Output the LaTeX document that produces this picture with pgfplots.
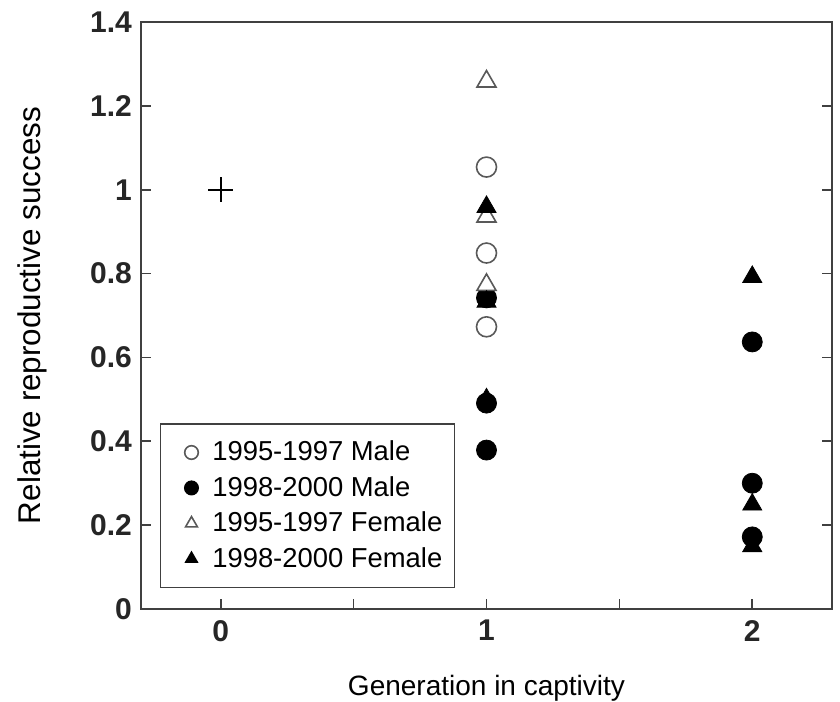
\documentclass[border=0pt]{standalone}
\usepackage{pgfplots}
\pgfplotsset{compat=1.18}
\usepackage{fontspec}
\setmainfont{Liberation Sans}
\definecolor{axgray}{gray}{0.25}
\definecolor{opengray}{gray}{0.35}
\begin{document}
\begin{tikzpicture}
\useasboundingbox (-70.5pt,-46pt) rectangle (349.5pt,304.5pt);
\begin{axis}[
  scale only axis,
  width=345.5pt, height=293.5pt,
  at={(0,0)}, anchor=south west,
  xmin=-0.3, xmax=2.3, ymin=0, ymax=1.4,
  xtick={0,1,2}, minor xtick={0.5,1.5},
  ytick={0,0.2,...,1.4},
  yticklabels={0,0.2,0.4,0.6,0.8,1,1.2,1.4},
  xtick pos=bottom, ytick pos=both,
  tick align=inside,
  major tick length=5pt, minor tick length=5pt,
  axis line style={axgray, line width=0.8pt},
  every tick/.style={axgray, line width=0.8pt},
  /pgf/number format/assume math mode=true,
  tick label style={font=\fontsize{15}{17}\selectfont\bfseries, text=black!85},
  yticklabel style={xshift=-1pt},
  xticklabel style={yshift=-2pt},
  xlabel={Generation in captivity},
  ylabel={Relative reproductive success},
  xlabel style={font=\fontsize{14}{16}\selectfont, at={(axis description cs:0.5,0)}, anchor=center, yshift=-39.5pt},
  ylabel style={font=\fontsize{15.7}{18}\selectfont, at={(axis description cs:0,0.5)}, anchor=center, xshift=0pt, yshift=54.5pt},
  legend style={at={(rel axis cs:0.0275,0.0358)}, anchor=south west,
    font=\fontsize{13.7}{15}\selectfont, draw=axgray, line width=0.7pt,
    inner xsep=4pt, inner ysep=6.5pt, row sep=2.3pt},
  legend cell align=left,
  legend image code/.code={\path[draw=none,fill=none] (0pt,0pt) (19.8pt,0pt); \draw[#1, mark size=3.4pt] plot coordinates {(11.4pt,0pt)};},
]
\addplot[only marks, mark=+, mark size=6.3pt, black, line width=0.9pt, forget plot] coordinates {(0,1)};
\addplot[only marks, mark=*, mark size=5pt, draw=opengray, fill=white, line width=0.8pt,
  mark options={draw=opengray, fill=white}] coordinates {(1,1.054) (1,0.849) (1,0.673)};
\addlegendentry{1995-1997 Male}
\addplot[only marks, mark=*, mark size=5pt, draw=black, fill=black, mark options={draw=black,fill=black}] coordinates {(1,0.742) (1,0.491) (1,0.379) (2,0.637) (2,0.300) (2,0.172)};
\addlegendentry{1998-2000 Male}
\addplot[only marks, mark=triangle*, mark size=5.5pt, draw=opengray, fill=white, line width=0.8pt,
  mark options={draw=opengray, fill=white}] coordinates {(1,1.258) (1,0.936) (1,0.773)};
\addlegendentry{1995-1997 Female}
\addplot[only marks, mark=triangle*, mark size=5.5pt, draw=black, fill=black, mark options={draw=black,fill=black}] coordinates {(1,0.959) (1,0.733) (1,0.500) (2,0.792) (2,0.249) (2,0.150)};
\addlegendentry{1998-2000 Female}
\end{axis}
\end{tikzpicture}
\end{document}
